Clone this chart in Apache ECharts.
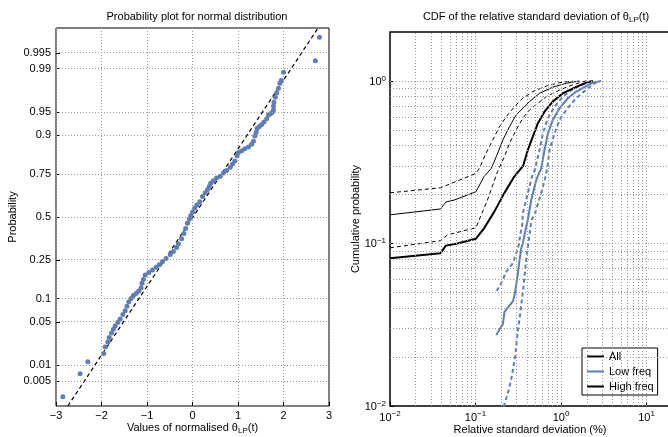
<!DOCTYPE html>
<html>
<head>
<meta charset="utf-8">
<script src="https://cdn.jsdelivr.net/npm/echarts@6/dist/echarts.min.js"></script>
<style>
  html, body { margin: 0; padding: 0; background: #fff; }
  #chart { width: 668px; height: 437px; }
</style>
</head>
<body>
<div id="chart"></div>
<script>
// ---- Normal probability plot: sorted normalised values and their plotting quantiles ----
const normValues = [
  -2.85, -2.47, -2.30, -1.95, -1.92, -1.86, -1.83, -1.78, -1.74, -1.70,
  -1.64, -1.59, -1.53, -1.48, -1.44, -1.40, -1.35, -1.30, -1.24, -1.18,
  -1.13, -1.11, -1.08, -1.04, -0.96, -0.88, -0.80, -0.73, -0.66, -0.58,
  -0.49, -0.42, -0.35, -0.31, -0.24, -0.19, -0.15, -0.11, -0.07, -0.04,
   0.00,  0.05,  0.10,  0.16,  0.22,  0.28,  0.33,  0.37,  0.40,  0.46,
   0.53,  0.61,  0.68,  0.75,  0.83,  0.88,  0.93,  0.98,  1.01,  1.08,
   1.15,  1.23,  1.30,  1.34,  1.37,  1.40,  1.42,  1.47,  1.52,  1.57,
   1.63,  1.67,  1.71,  1.75,  1.78,  1.78,  1.79,  1.82,  1.85,  1.89,
   1.92,  1.95,  2.00,  2.70,  2.79
];
const normQuantiles = [
  -2.82, -2.46, -2.27, -2.14, -2.04, -1.96, -1.89, -1.82, -1.76, -1.71,
  -1.65, -1.60, -1.53, -1.47, -1.40, -1.33, -1.28, -1.23, -1.20, -1.16,
  -1.11, -1.04, -0.98, -0.91, -0.87, -0.83, -0.79, -0.75, -0.70, -0.65,
  -0.59, -0.54, -0.48, -0.42, -0.34, -0.26, -0.18, -0.10, -0.03,  0.02,
   0.08,  0.14,  0.19,  0.24,  0.32,  0.38,  0.43,  0.48,  0.53,  0.57,
   0.61,  0.64,  0.69,  0.73,  0.78,  0.83,  0.88,  0.96,  1.01,  1.04,
   1.07,  1.10,  1.14,  1.19,  1.27,  1.33,  1.39,  1.42,  1.45,  1.49,
   1.54,  1.60,  1.62,  1.64,  1.68,  1.74,  1.80,  1.88,  1.95,  2.02,
   2.10,  2.14,  2.27,  2.45,  2.82
];
// fitted normal reference line (end points)
const refLineValues = [-2.74, 2.76];
const refLineQuantiles = [-2.965, 2.965];

// probability tick marks of the normal plot
const probTicks = [0.005, 0.01, 0.05, 0.1, 0.25, 0.5, 0.75, 0.9, 0.95, 0.99, 0.995];
const probTickLabels = ['0.005', '0.01', '0.05', '0.1', '0.25', '0.5', '0.75', '0.9', '0.95', '0.99', '0.995'];

// ---- CDF curves: [relative std (%), cumulative probability] ----
const cdfAll = [
  [0.01, 0.081], [0.039, 0.087], [0.045, 0.097], [0.0615, 0.10], [0.101, 0.107],
  [0.126, 0.124], [0.166, 0.157], [0.217, 0.204], [0.284, 0.258], [0.36, 0.30],
  [0.409, 0.376], [0.468, 0.454], [0.536, 0.55], [0.641, 0.647], [0.80, 0.746],
  [1.05, 0.84], [1.51, 0.92], [1.97, 0.976], [2.36, 1.0]
];
const cdfHigh = [
  [0.01, 0.15], [0.039, 0.163], [0.045, 0.18], [0.0564, 0.185], [0.101, 0.208],
  [0.126, 0.258], [0.153, 0.29], [0.175, 0.342], [0.209, 0.434], [0.25, 0.524],
  [0.299, 0.618], [0.374, 0.695], [0.428, 0.746], [0.561, 0.84], [0.80, 0.915],
  [1.15, 0.968], [1.64, 1.0]
];
const cdfHighUpper = [
  [0.01, 0.205], [0.039, 0.22], [0.101, 0.27], [0.111, 0.29], [0.133, 0.36],
  [0.159, 0.434], [0.191, 0.524], [0.229, 0.603], [0.286, 0.695], [0.357, 0.782],
  [0.468, 0.86], [0.671, 0.93], [0.96, 0.976], [1.37, 1.0]
];
const cdfHighLower = [
  [0.01, 0.094], [0.039, 0.104], [0.047, 0.113], [0.101, 0.125], [0.138, 0.185],
  [0.181, 0.277], [0.218, 0.342], [0.25, 0.414], [0.299, 0.50], [0.357, 0.589],
  [0.428, 0.663], [0.536, 0.729], [0.671, 0.80], [0.96, 0.88], [1.37, 0.945],
  [1.80, 0.99], [1.99, 1.0]
];
const cdfLow = [
  [0.175, 0.0273], [0.194, 0.030], [0.209, 0.032], [0.218, 0.038], [0.224, 0.039],
  [0.273, 0.044], [0.286, 0.048], [0.299, 0.0556], [0.313, 0.0656], [0.327, 0.079],
  [0.342, 0.093], [0.357, 0.10], [0.374, 0.113], [0.392, 0.127], [0.409, 0.14],
  [0.448, 0.185], [0.513, 0.246], [0.586, 0.29], [0.641, 0.376], [0.702, 0.476],
  [0.80, 0.575], [0.96, 0.68], [1.20, 0.782], [1.51, 0.86], [1.97, 0.93],
  [2.36, 0.976], [2.95, 1.0]
];
const cdfLowUpper = [
  [0.177, 0.051], [0.20, 0.057], [0.229, 0.067], [0.273, 0.0755], [0.299, 0.087],
  [0.321, 0.098], [0.333, 0.113], [0.352, 0.13], [0.357, 0.153], [0.409, 0.204],
  [0.468, 0.27], [0.49, 0.28], [0.561, 0.376], [0.613, 0.476], [0.702, 0.589],
  [0.84, 0.695], [1.05, 0.80], [1.37, 0.89], [1.80, 0.95], [2.25, 1.0]
];
const cdfLowLower = [
  [0.213, 0.0099], [0.239, 0.012], [0.261, 0.0145], [0.278, 0.0175], [0.294, 0.021],
  [0.304, 0.0255], [0.318, 0.031], [0.333, 0.037], [0.348, 0.045], [0.364, 0.054],
  [0.381, 0.069], [0.398, 0.087], [0.42, 0.105], [0.44, 0.127], [0.455, 0.14],
  [0.50, 0.155], [0.586, 0.204], [0.65, 0.25], [0.69, 0.29], [0.733, 0.376],
  [0.84, 0.476], [0.96, 0.575], [1.15, 0.663], [1.44, 0.764], [1.80, 0.85],
  [2.15, 0.915], [2.47, 0.968], [2.82, 1.0]
];

// log grid positions (decade multiples)
const logGridX = [0.02, 0.03, 0.04, 0.05, 0.06, 0.07, 0.08, 0.09, 0.1,
                  0.2, 0.3, 0.4, 0.5, 0.6, 0.7, 0.8, 0.9, 1,
                  2, 3, 4, 5, 6, 7, 8, 9, 10];
const logGridY = [0.02, 0.03, 0.04, 0.05, 0.06, 0.07, 0.08, 0.09, 0.1,
                  0.2, 0.3, 0.4, 0.5, 0.6, 0.7, 0.8, 0.9, 1];

// inverse standard normal CDF (Acklam's rational approximation)
function probit(p) {
  const a = [-3.969683028665376e+01, 2.209460984245205e+02, -2.759285104469687e+02,
             1.383577518672690e+02, -3.066479806614716e+01, 2.506628277459239e+00];
  const b = [-5.447609879822406e+01, 1.615858368580409e+02, -1.556989798598866e+02,
             6.680131188771972e+01, -1.328068155288572e+01];
  const c = [-7.784894002430293e-03, -3.223964580411365e-01, -2.400758277161838e+00,
             -2.549732539343734e+00, 4.374664141464968e+00, 2.938163982698783e+00];
  const d = [7.784695709041462e-03, 3.224671290700398e-01, 2.445134137142996e+00,
             3.754408661907416e+00];
  const pl = 0.02425;
  let q, r;
  if (p < pl) {
    q = Math.sqrt(-2 * Math.log(p));
    return (((((c[0]*q+c[1])*q+c[2])*q+c[3])*q+c[4])*q+c[5]) / ((((d[0]*q+d[1])*q+d[2])*q+d[3])*q+1);
  } else if (p <= 1 - pl) {
    q = p - 0.5; r = q * q;
    return (((((a[0]*r+a[1])*r+a[2])*r+a[3])*r+a[4])*r+a[5])*q / (((((b[0]*r+b[1])*r+b[2])*r+b[3])*r+b[4])*r+1);
  }
  q = Math.sqrt(-2 * Math.log(1 - p));
  return -(((((c[0]*q+c[1])*q+c[2])*q+c[3])*q+c[4])*q+c[5]) / ((((d[0]*q+d[1])*q+d[2])*q+d[3])*q+1);
}

const probTickZ = probTicks.map(probit);
const Z_LIM = 2.965;

const FONT = '"Liberation Sans", Arial, Helvetica, sans-serif';
const BLUE = '#5f7db6';
const GRID_LINE = { color: '#9a9a9a', width: 1, type: [1, 2] };

const minus = s => String(s).replace('-', '\u2212');
function powLabel(v) {
  const l = Math.log10(v);
  const e = Math.round(l);
  if (Math.abs(l - e) > 1e-6) return '';
  return '{b|10}{s|' + minus(e) + '}';
}
const powRich = {
  b: { fontSize: 11, fontFamily: FONT, color: '#000', lineHeight: 13, verticalAlign: 'bottom' },
  s: { fontSize: 8, fontFamily: FONT, color: '#000', lineHeight: 9, verticalAlign: 'top', padding: [0, 0, 6, 0] }
};
const subRich = {
  t: { fontSize: 11, fontFamily: FONT, color: '#000', lineHeight: 13, verticalAlign: 'top' },
  sub: { fontSize: 8, fontFamily: FONT, color: '#000', lineHeight: 9, verticalAlign: 'bottom', padding: [7, 0, 0, 0] }
};

const chart = echarts.init(document.getElementById('chart'), null, { renderer: 'canvas' });

const option = {
  animation: false,
  backgroundColor: '#fff',
  textStyle: { fontFamily: FONT, color: '#000' },
  title: [
    {
      text: 'Probability plot for normal distribution',
      left: 192, top: 6, textAlign: 'center',
      textStyle: { fontSize: 11, fontWeight: 'normal', fontFamily: FONT, color: '#000' }
    },
    {
      text: '{t|CDF of the relative standard deviation of \u03b8}{sub|LP}{t|(t)}',
      left: 531, top: 6, textAlign: 'center',
      textStyle: { fontSize: 11, fontWeight: 'normal', fontFamily: FONT, color: '#000', rich: subRich }
    }
  ],
  grid: [
    { left: 56, top: 28, width: 273, height: 378, show: true, borderColor: '#000', borderWidth: 1,
      containLabel: false, outerBoundsMode: 'none' },
    { left: 390, top: 32, width: 280, height: 374, show: true, borderColor: '#000', borderWidth: 1.5,
      containLabel: false, outerBoundsMode: 'none' }
  ],
  xAxis: [
    {
      gridIndex: 0, type: 'value', min: -3, max: 3, interval: 1,
      name: '{t|Values of normalised \u03b8}{sub|LP}{t|(t)}',
      nameLocation: 'middle', nameGap: 16, nameMoveOverlap: false,
      nameTextStyle: { rich: subRich },
      axisLine: { show: false, onZero: false },
      axisTick: { show: true, inside: true, length: 4, lineStyle: { color: '#000' } },
      axisLabel: { fontSize: 11, color: '#000', fontFamily: FONT, margin: 4, formatter: v => minus(v) },
      splitLine: { show: true, lineStyle: GRID_LINE }
    },
    {
      gridIndex: 1, type: 'log', logBase: 10, min: 0.01, max: 18.8,
      name: 'Relative standard deviation (%)',
      nameLocation: 'middle', nameGap: 18, nameMoveOverlap: false,
      nameTextStyle: { fontSize: 11, fontFamily: FONT, color: '#000' },
      axisLine: { show: false, onZero: false },
      axisTick: { show: true, inside: true, length: 4, lineStyle: { color: '#000' } },
      axisLabel: { margin: 4, formatter: powLabel, rich: powRich, showMaxLabel: false },
      splitLine: { show: false }
    }
  ],
  yAxis: [
    {
      gridIndex: 0, type: 'value', min: -Z_LIM, max: Z_LIM,
      name: 'Probability', nameLocation: 'middle', nameGap: 38, nameMoveOverlap: false,
      nameTextStyle: { fontSize: 11, fontFamily: FONT, color: '#000' },
      axisLine: { show: false, onZero: false },
      axisTick: { show: true, inside: true, length: 4, customValues: probTickZ, lineStyle: { color: '#000' } },
      axisLabel: {
        fontSize: 11, color: '#000', fontFamily: FONT, margin: 5,
        customValues: probTickZ,
        formatter: v => {
          let best = 0;
          probTickZ.forEach((z, i) => { if (Math.abs(z - v) < Math.abs(probTickZ[best] - v)) best = i; });
          return probTickLabels[best];
        }
      },
      splitLine: { show: false }
    },
    {
      gridIndex: 1, type: 'log', logBase: 10, min: 0.01, max: 2,
      name: 'Cumulative probability', nameLocation: 'middle', nameGap: 29, nameMoveOverlap: false,
      nameTextStyle: { fontSize: 11, fontFamily: FONT, color: '#000' },
      axisLine: { show: false, onZero: false },
      axisTick: { show: true, inside: true, length: 4, lineStyle: { color: '#000' } },
      axisLabel: { margin: 4, formatter: powLabel, rich: powRich, showMaxLabel: false },
      splitLine: { show: false }
    }
  ],
  legend: {
    data: ['All', 'Low freq', 'High freq'],
    left: 582, top: 348, orient: 'vertical',
    itemWidth: 17, itemHeight: 10, itemGap: 4, itemStyle: { opacity: 0 },
    padding: [3, 4, 3, 4],
    backgroundColor: '#fff', borderColor: '#000', borderWidth: 1, borderRadius: 0,
    textStyle: { fontSize: 11, fontFamily: FONT, color: '#000' }
  },
  series: [
    // horizontal probability grid lines of the normal plot
    {
      type: 'line', xAxisIndex: 0, yAxisIndex: 0, data: [], silent: true, z: 1,
      markLine: {
        silent: true, symbol: 'none', label: { show: false }, animation: false,
        lineStyle: GRID_LINE,
        data: probTickZ.map(z => ({ yAxis: z }))
      }
    },
    {
      name: 'reference', type: 'line', xAxisIndex: 0, yAxisIndex: 0, z: 3,
      data: refLineValues.map((v, i) => [v, refLineQuantiles[i]]),
      symbol: 'none', lineStyle: { color: '#000', width: 1.2, type: [4, 3] }
    },
    {
      name: 'samples', type: 'scatter', xAxisIndex: 0, yAxisIndex: 0, z: 4,
      data: normValues.map((v, i) => [v, normQuantiles[i]]),
      symbolSize: 5, itemStyle: { color: BLUE, opacity: 1 }
    },
    // log grid of the CDF panel
    {
      type: 'line', xAxisIndex: 1, yAxisIndex: 1, data: [], silent: true, z: 1,
      markLine: {
        silent: true, symbol: 'none', label: { show: false }, animation: false,
        lineStyle: GRID_LINE,
        data: logGridX.map(v => ({ xAxis: v })).concat(logGridY.map(v => ({ yAxis: v })))
      }
    },
    {
      name: 'High freq bound up', type: 'line', xAxisIndex: 1, yAxisIndex: 1, z: 3,
      data: cdfHighUpper, symbol: 'none', lineStyle: { color: '#000', width: 1, type: [4, 3] }
    },
    {
      name: 'High freq bound low', type: 'line', xAxisIndex: 1, yAxisIndex: 1, z: 3,
      data: cdfHighLower, symbol: 'none', lineStyle: { color: '#000', width: 1, type: [4, 3] }
    },
    {
      name: 'Low freq bound up', type: 'line', xAxisIndex: 1, yAxisIndex: 1, z: 3,
      data: cdfLowUpper, symbol: 'none', lineStyle: { color: BLUE, width: 2, type: [4, 3] }
    },
    {
      name: 'Low freq bound low', type: 'line', xAxisIndex: 1, yAxisIndex: 1, z: 3,
      data: cdfLowLower, symbol: 'none', lineStyle: { color: BLUE, width: 2, type: [4, 3] }
    },
    {
      name: 'All', type: 'line', xAxisIndex: 1, yAxisIndex: 1, z: 4,
      data: cdfAll, symbol: 'none', itemStyle: { color: '#000' },
      lineStyle: { color: '#000', width: 2 }
    },
    {
      name: 'Low freq', type: 'line', xAxisIndex: 1, yAxisIndex: 1, z: 4,
      data: cdfLow, symbol: 'none', itemStyle: { color: BLUE },
      lineStyle: { color: BLUE, width: 2 }
    },
    {
      name: 'High freq', type: 'line', xAxisIndex: 1, yAxisIndex: 1, z: 4,
      data: cdfHigh, symbol: 'none', itemStyle: { color: '#000' },
      lineStyle: { color: '#000', width: 1 }
    }
  ]
};

chart.setOption(option);
</script>
</body>
</html>
